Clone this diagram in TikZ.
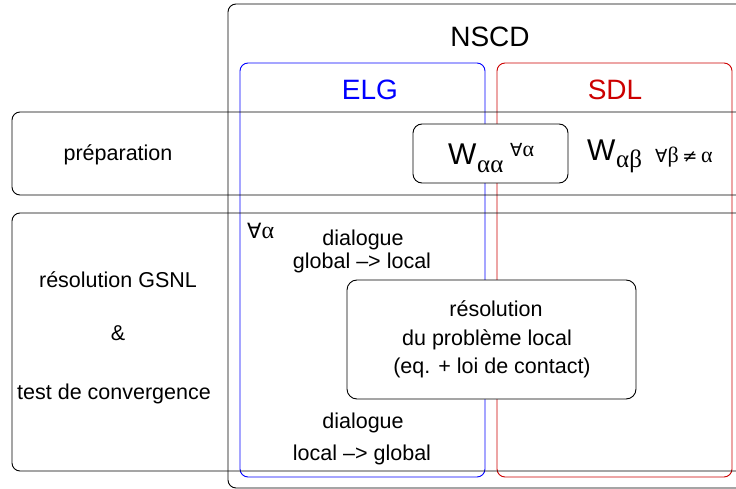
\documentclass[tikz,border=0pt]{standalone}
\usepackage{fontspec}
\setmainfont{Liberation Sans}
\newfontfamily\grk{Liberation Serif}
\newfontfamily\symf{DejaVu Sans}
\definecolor{elgblue}{RGB}{0,0,255}
\definecolor{sdlred}{RGB}{204,0,0}
\begin{document}
\begin{tikzpicture}[x=1pt,y=-1pt,
  frame/.style={draw=black, line width=0.9pt, rounded corners=8pt},
  body/.style={font=\fontsize{21.5}{26}\selectfont, inner sep=0pt, anchor=base},
  head/.style={font=\fontsize{28}{34}\selectfont, inner sep=0pt, anchor=base},
  bigw/.style={font=\fontsize{30}{34}\selectfont, inner sep=0pt, anchor=base west},
  sub/.style={font=\grk\fontsize{25}{28}\selectfont, inner sep=0pt, anchor=base west},
  quant/.style={font=\fontsize{22}{26}\selectfont, inner sep=0pt, anchor=base west}]
\clip (0,0) rectangle (736,489);
\useasboundingbox (0,0) rectangle (736,489);
% NSCD frame
\draw[frame] (228,4) rectangle (780,488);
% ELG and SDL frames
\draw[frame, draw=elgblue] (240,63) rectangle (485,477);
\draw[frame, draw=sdlred] (497,63) rectangle (732,477);
% rows
\draw[frame] (12,112) rectangle (780,195);
\draw[frame] (12,213) rectangle (780,471);
% inner boxes
\draw[frame, fill=white, rounded corners=9pt] (413,124) rectangle (568,183);
\draw[frame, fill=white, rounded corners=10pt] (347,280) rectangle (636,399);
% headings
\node[head] (nscd) at (490,47) {NSCD};
\node[head, text=elgblue] (elg) at (370,100) {ELG};
\node[head, text=sdlred] (sdl) at (615,100) {SDL};
% left labels
\node[body] (prep) at (118,161) {préparation};
\node[body] (gsnl) at (118,287) {résolution GSNL};
\node[body] (amp) at (118,340) {\&};
\node[body] (conv) at (114,399) {test de convergence};
% W terms
\node[bigw] (waa) at (448,165) {W};
\node[sub] (waasub) at (477,173) {αα};
\node[quant] (waaq) at (510,157) {{\symf\fontsize{18}{22}\selectfont ∀}{\grk α}};
\node[bigw] (wab) at (587,161) {W};
\node[sub] (wabsub) at (616,168) {αβ};
\node[quant] (wabq) at (655,163) {{\symf\fontsize{18}{22}\selectfont ∀}{\grk β}\,{\symf\fontsize{18}{22}\selectfont ≠}\,{\grk α}};
% resolution row
\node[quant, font=\fontsize{24}{28}\selectfont] (fa) at (247,238) {{\symf\fontsize{21}{24}\selectfont ∀}{\grk α}};
\node[body] (dg1) at (363,245) {dialogue};
\node[body] (dg2) at (362,268) {global –> local};
\node[body] (loc1) at (496,316) {résolution};
\node[body] (loc2) at (487,345) {du problème local};
\node[body] (loc3) at (492,373) {(eq. + loi de contact)};
\node[body] (dl1) at (363,428) {dialogue};
\node[body] (dl2) at (362,460) {local –> global};
\end{tikzpicture}
\end{document}
